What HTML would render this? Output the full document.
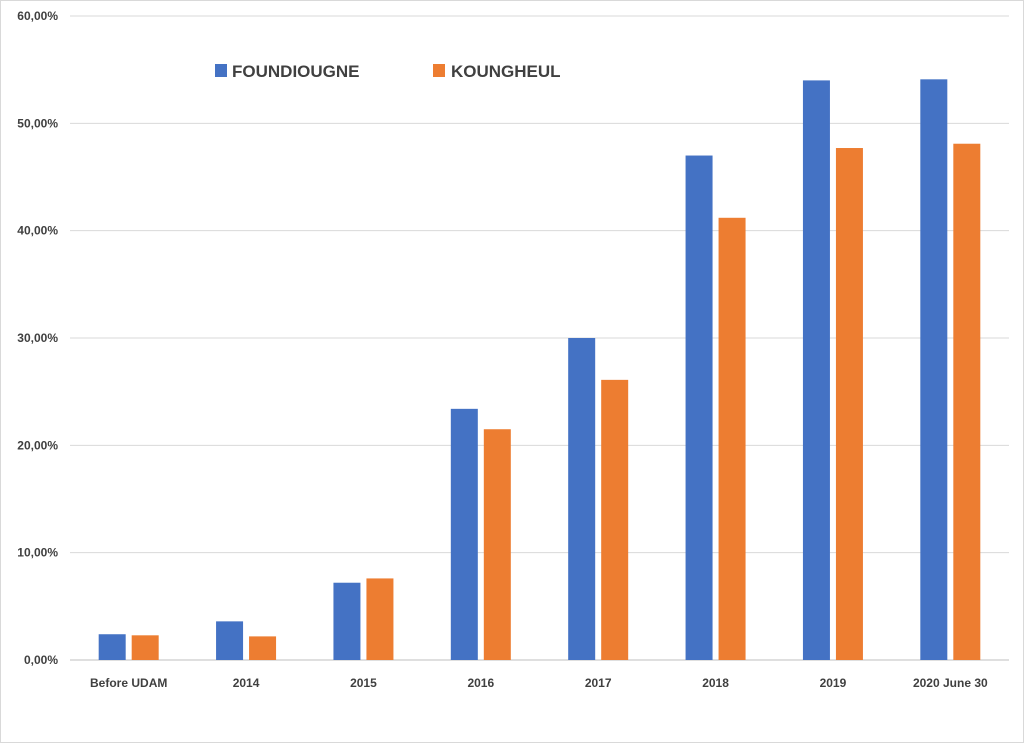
<!DOCTYPE html>
<html><head><meta charset="utf-8"><style>
html,body{margin:0;padding:0;background:#fff;}
svg{display:block;font-family:"Liberation Sans",sans-serif;}
</style></head><body>
<svg id="chart" width="1024" height="743" viewBox="0 0 1024 743">
<rect x="0.5" y="0.5" width="1023" height="742" fill="#fff" stroke="#d9d9d9"/>
<g id="grid"></g>
<g id="yticks"></g>
<g id="bars"></g>
<g id="xticks"></g>
<g>
<g>
<rect x="215" y="64" width="12" height="13" fill="#4472c4"/>
<text x="232" y="77" font-size="17" font-weight="bold" fill="#404040">FOUNDIOUGNE</text></g>
<g>
<rect x="433" y="64" width="12" height="13" fill="#ed7d31"/>
<text x="451" y="77" font-size="17" font-weight="bold" fill="#404040">KOUNGHEUL</text></g>
</g>
</svg>
<script>
const categories=["Before UDAM","2014","2015","2016","2017","2018","2019","2020 June 30"];
const foundiougne=[2.4,3.6,7.2,23.4,30.0,47.0,54.0,54.1];
const koungheul=[2.3,2.2,7.6,21.5,26.1,41.2,47.7,48.1];
const yTickLabels=["0,00%","10,00%","20,00%","30,00%","40,00%","50,00%","60,00%"];
const yTicks=[0,10,20,30,40,50,60];
const NS="http://www.w3.org/2000/svg";
const x0=70,x1=1009,y0=660,yTop=16,yMax=60;
const step=(x1-x0)/categories.length;
const yS=v=>y0-(v/yMax)*(y0-yTop);
const xC=i=>x0+step*(i+0.5);
function mk(tag,attrs,parent){const e=document.createElementNS(NS,tag);for(const k in attrs)e.setAttribute(k,attrs[k]);parent.appendChild(e);return e;}
const grid=document.getElementById('grid'),yt=document.getElementById('yticks'),bars=document.getElementById('bars'),xt=document.getElementById('xticks');
yTicks.forEach((v,i)=>{
 const l=mk('line',{x1:x0,x2:x1,y1:yS(v),y2:yS(v),stroke:v===0?'#bfbfbf':'#d9d9d9','stroke-width':1},grid);
 
 
 const t=mk('text',{x:58,y:yS(v)+4,'text-anchor':'end','font-size':12,'font-weight':'bold',fill:'#404040'},yt);
 t.textContent=yTickLabels[i];
 
 
});
const bw=27,gap=6;
categories.forEach((c,i)=>{
 const cx=xC(i);
 const b1=mk('rect',{x:cx-gap/2-bw,y:yS(foundiougne[i]),width:bw,height:y0-yS(foundiougne[i]),fill:'#4472c4'},bars);
 
 
 const b2=mk('rect',{x:cx+gap/2,y:yS(koungheul[i]),width:bw,height:y0-yS(koungheul[i]),fill:'#ed7d31'},bars);
 
 
 const t=mk('text',{x:cx,y:687,'text-anchor':'middle','font-size':12,'font-weight':'bold',fill:'#404040'},xt);
 t.textContent=c;
 
 
});
</script>
</body></html>
